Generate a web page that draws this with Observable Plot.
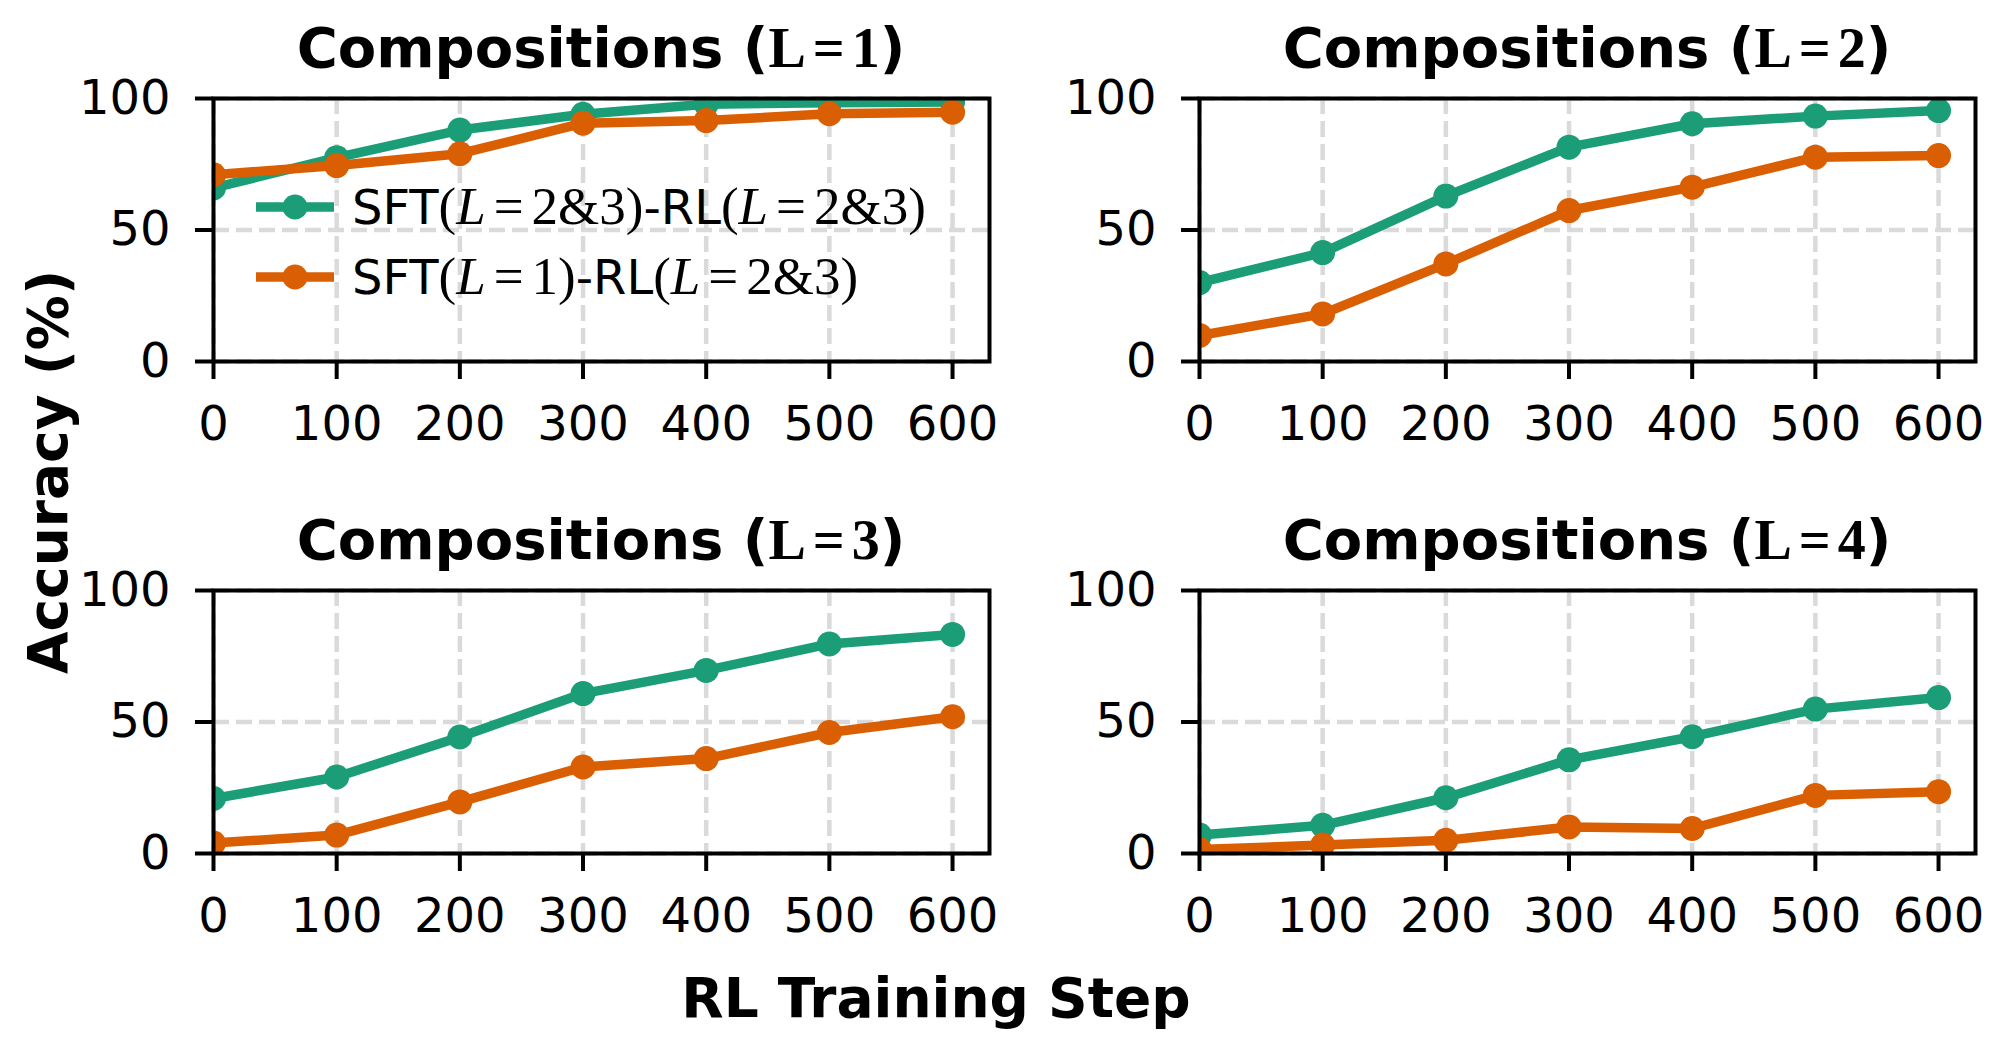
<!DOCTYPE html>
<html>
<head>
<meta charset="utf-8">
<script src="https://cdn.jsdelivr.net/npm/d3@7"></script>
<script src="https://cdn.jsdelivr.net/npm/@observablehq/plot@0.6"></script>
<style>
  html, body { margin: 0; padding: 0; background: #fff; }
  #fig { position: relative; width: 2005px; height: 1055px; background: #fff; overflow: hidden; }
  #fig svg.panel { position: absolute; }
  #overlay { position: absolute; left: 0; top: 0; pointer-events: none; }
</style>
</head>
<body>
<div id="fig"></div>
<script>
// RL training steps on the x axis
const steps = [0, 100, 200, 300, 400, 500, 600];
const xTicks = [0, 100, 200, 300, 400, 500, 600];
const yTicks = [0, 50, 100];

// The two training recipes
const seriesNames = ["SFT(L=2&3)-RL(L=2&3)", "SFT(L=1)-RL(L=2&3)"];
const seriesColors = ["#1b9e77", "#d95f02"];

// Composition levels, one panel each
const levels = [1, 2, 3, 4];

// Accuracy (%) for SFT(L=2&3)-RL(L=2&3)
const accSft23_L1 = [66, 77.5, 88, 94, 97.8, 98.4, 98.7];
const accSft23_L2 = [30, 41.4, 62.9, 81.5, 90.4, 93.3, 95.4];
const accSft23_L3 = [20.9, 29.1, 44.3, 60.8, 69.6, 79.7, 83.3];
const accSft23_L4 = [7, 10.7, 21.2, 35.6, 44.4, 54.9, 59.3];

// Accuracy (%) for SFT(L=1)-RL(L=2&3)
const accSft1_L1 = [71, 74.5, 79, 90.6, 91.6, 94.2, 94.8];
const accSft1_L2 = [9.9, 18.1, 37.1, 57.4, 66.3, 77.7, 78.3];
const accSft1_L3 = [4, 7, 19.6, 32.9, 36.1, 46, 52];
const accSft1_L4 = [1.5, 3.2, 5, 10.1, 9.5, 22.1, 23.5];

const greenByLevel = [accSft23_L1, accSft23_L2, accSft23_L3, accSft23_L4];
const orangeByLevel = [accSft1_L1, accSft1_L2, accSft1_L3, accSft1_L4];

// Panel geometry (pixels)
const frameLefts = [213, 1199];
const frameTops = [98, 590];
const frameW = 776, frameH = 263;
const M = {left: 150, right: 40, top: 30, bottom: 110};

const lineW = 9.5, dotR = 12.5;

const fig = document.getElementById("fig");

const gridStyle = {stroke: "#dadada", strokeOpacity: 1, strokeWidth: 4.5, strokeDasharray: "16,7"};

levels.forEach((level, i) => {
  const col = i % 2, row = Math.floor(i / 2);
  const green = steps.map((s, k) => ({step: s, acc: greenByLevel[i][k], series: seriesNames[0]}));
  const orange = steps.map((s, k) => ({step: s, acc: orangeByLevel[i][k], series: seriesNames[1]}));

  const chart = Plot.plot({
    width: frameW + M.left + M.right,
    height: frameH + M.top + M.bottom,
    marginLeft: M.left, marginRight: M.right, marginTop: M.top, marginBottom: M.bottom,
    x: {domain: [0, 630]},
    y: {domain: [0, 100]},
    color: {domain: seriesNames, range: seriesColors},
    style: {background: "transparent", overflow: "visible", fontFamily: "DejaVu Sans", color: "#000"},
    marks: [
      Plot.gridX(xTicks, gridStyle),
      Plot.gridY(yTicks, gridStyle),
      Plot.line(green, {x: "step", y: "acc", stroke: "series", strokeWidth: lineW, clip: true}),
      Plot.dot(green, {x: "step", y: "acc", fill: "series", r: dotR, clip: true}),
      Plot.line(orange, {x: "step", y: "acc", stroke: "series", strokeWidth: lineW, clip: true}),
      Plot.dot(orange, {x: "step", y: "acc", fill: "series", r: dotR, clip: true}),
      Plot.frame({stroke: "#000", strokeWidth: 4}),
      Plot.axisX(xTicks, {tickSize: 18, tickPadding: 26, strokeWidth: 4, fontSize: 48, fontFamily: "DejaVu Sans", label: null}),
      Plot.axisY(yTicks, {tickSize: 18, tickPadding: 25, strokeWidth: 4, fontSize: 48, fontFamily: "DejaVu Sans", label: null})
    ]
  });
  chart.classList.add("panel");
  chart.style.left = (frameLefts[col] - M.left) + "px";
  chart.style.top = (frameTops[row] - M.top) + "px";
  fig.appendChild(chart);
});

// Titles, shared axis labels and legend
const svg = d3.select(fig).append("svg")
  .attr("id", "overlay")
  .attr("width", 2005).attr("height", 1055);

levels.forEach((level, i) => {
  const col = i % 2, row = Math.floor(i / 2);
  const t = svg.append("text")
    .attr("x", frameLefts[col] + frameW / 2)
    .attr("y", frameTops[row] - 31)
    .attr("text-anchor", "middle")
    .attr("font-size", 56)
    .attr("font-weight", "bold")
    .attr("fill", "#000");
  t.append("tspan").attr("font-family", "DejaVu Sans").text("Compositions (");
  t.append("tspan").attr("font-family", "Liberation Serif").text("L");
  t.append("tspan").attr("font-family", "Liberation Serif").attr("dx", 7).text("=");
  t.append("tspan").attr("font-family", "Liberation Serif").attr("dx", 7).text(String(level));
  t.append("tspan").attr("font-family", "DejaVu Sans").text(")");
});

svg.append("text")
  .attr("transform", "translate(67,472) rotate(-90)")
  .attr("text-anchor", "middle")
  .attr("font-family", "DejaVu Sans").attr("font-weight", "bold").attr("font-size", 55)
  .text("Accuracy (%)");

svg.append("text")
  .attr("x", 936).attr("y", 1017)
  .attr("text-anchor", "middle")
  .attr("font-family", "DejaVu Sans").attr("font-weight", "bold").attr("font-size", 55)
  .text("RL Training Step");

// Legend entries: sans text with serif math parts
const legendParts = [
  [["SFT", "s"], ["(", "r"], ["L", "i"], ["=", "rel"], ["2&3)", "r"], ["-RL", "s"], ["(", "r"], ["L", "i"], ["=", "rel"], ["2&3)", "r"]],
  [["SFT", "s"], ["(", "r"], ["L", "i"], ["=", "rel"], ["1)", "r"], ["-RL", "s"], ["(", "r"], ["L", "i"], ["=", "rel"], ["2&3)", "r"]]
];
const legendRowY = [207, 277];
seriesNames.forEach((name, k) => {
  const g = svg.append("g");
  const cy = legendRowY[k];
  g.append("line").attr("x1", 256).attr("x2", 334).attr("y1", cy).attr("y2", cy)
    .attr("stroke", seriesColors[k]).attr("stroke-width", lineW);
  g.append("circle").attr("cx", 295).attr("cy", cy).attr("r", dotR).attr("fill", seriesColors[k]);
  const t = g.append("text").attr("x", 352).attr("y", cy + 17).attr("font-size", 48).attr("fill", "#000");
  let afterRel = false;
  legendParts[k].forEach(([str, kind]) => {
    const sp = t.append("tspan").text(str);
    if (kind === "s") sp.attr("font-family", "DejaVu Sans");
    else sp.attr("font-family", "Liberation Serif").attr("font-size", 53);
    if (kind === "i") sp.attr("font-style", "italic");
    if (kind === "rel") { sp.attr("dx", 8); afterRel = true; }
    else if (afterRel) { sp.attr("dx", 8); afterRel = false; }
  });
});
</script>
</body>
</html>
